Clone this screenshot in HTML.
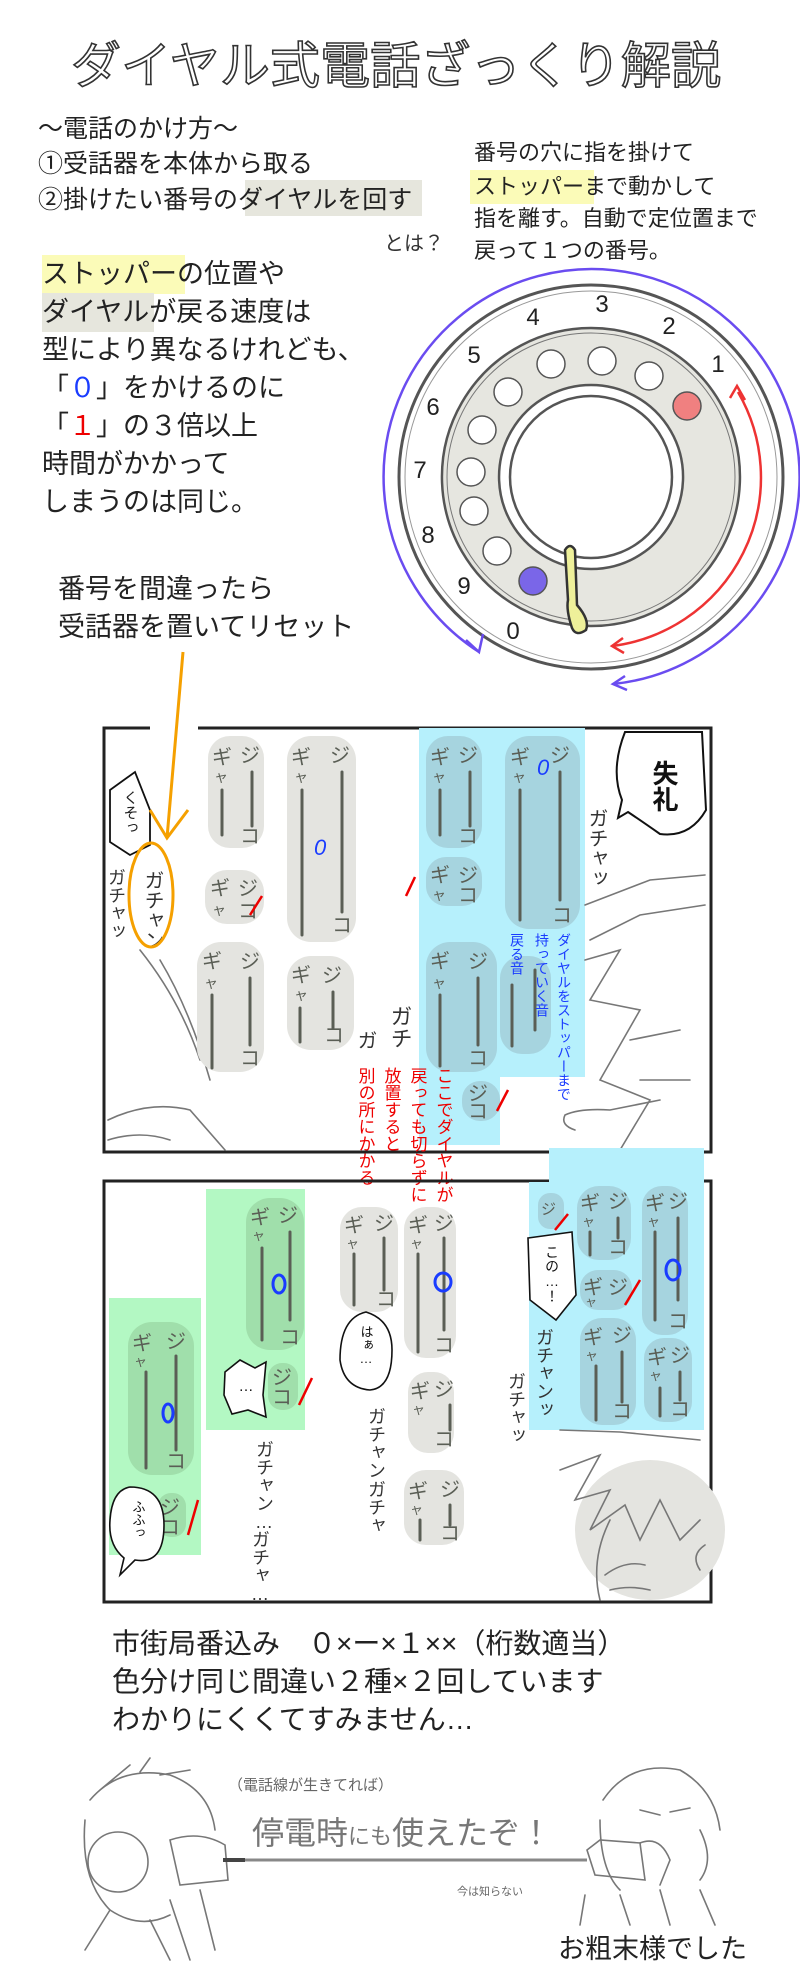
<!DOCTYPE html>
<html><head><meta charset="utf-8">
<style>
html,body{margin:0;padding:0;background:#fff;}
svg{display:block;}
text{font-family:"Liberation Sans","Noto Sans CJK JP",sans-serif;}
.v{writing-mode:vertical-rl;text-orientation:upright;}
.pk{fill:#5a5e55;font-size:20px;}
.pl{stroke:#5a5e55;stroke-width:3;stroke-linecap:round;fill:none;}
.sk{stroke:#777;stroke-width:1.6;fill:none;stroke-linecap:round;}
.jp{font-family:"Noto Sans CJK JP",sans-serif;}
</style></head>
<body>
<svg width="800" height="1988" viewBox="0 0 800 1988" xmlns="http://www.w3.org/2000/svg">
<rect width="800" height="1988" fill="#fff"/>

<!-- Title -->
<text x="396" y="83" text-anchor="middle" font-size="50" fill="#fff" stroke="#333" stroke-width="1.6" textLength="650">ダイヤル式電話ざっくり解説</text>

<!-- left intro -->
<g font-size="25" fill="#222">
<text x="38" y="137">〜電話のかけ方〜</text>
<text x="38" y="172">①受話器を本体から取る</text>
<rect x="245" y="180" width="177" height="36" fill="#e6e6dd"/>
<text x="38" y="208">②掛けたい番号のダイヤルを回す</text>
</g>
<g font-size="22" fill="#222">
<text x="474" y="160">番号の穴に指を掛けて</text>
<rect x="470" y="170" width="124" height="34" fill="#fbfbb8"/>
<text x="474" y="194">ストッパーまで動かして</text>
<text x="474" y="226">指を離す。自動で定位置まで</text>
<text x="474" y="258">戻って１つの番号。</text>
</g>
<text x="384" y="250" font-size="20" fill="#333">とは？</text>

<g font-size="27" fill="#222">
<rect x="42" y="255" width="143" height="39" fill="#fbfbb8"/>
<text x="42" y="283">ストッパーの位置や</text>
<rect x="42" y="293" width="112" height="39" fill="#e6e6dd"/>
<text x="42" y="321">ダイヤルが戻る速度は</text>
<text x="42" y="359">型により異なるけれども、</text>
<text x="42" y="397">「<tspan fill="#1a3cff">０</tspan>」をかけるのに</text>
<text x="42" y="435">「<tspan fill="#e00">１</tspan>」の３倍以上</text>
<text x="42" y="473">時間がかかって</text>
<text x="42" y="511">しまうのは同じ。</text>
<text x="58" y="598">番号を間違ったら</text>
<text x="58" y="636">受話器を置いてリセット</text>
</g>

<!-- Dial -->
<g>
<circle cx="591" cy="477" r="192" fill="none" stroke="#555" stroke-width="3"/>
<circle cx="591" cy="477" r="186" fill="none" stroke="#999" stroke-width="1"/>
<path d="M591 328 A149 149 0 1 1 590.9 328 Z M591 385 A92 92 0 1 0 591.1 385 Z" fill="#e6e6e0" fill-rule="evenodd" stroke="#555" stroke-width="2.5"/>
<circle cx="591" cy="477" r="144" fill="none" stroke="#777" stroke-width="1"/>
<circle cx="591" cy="477" r="81" fill="#fff" stroke="#555" stroke-width="2.5"/>
<g fill="#fff" stroke="#555" stroke-width="1.5">
<circle cx="602" cy="361" r="14"/><circle cx="551" cy="364" r="14"/><circle cx="649" cy="376" r="14"/>
<circle cx="508" cy="392" r="14"/><circle cx="482" cy="430" r="14"/><circle cx="471" cy="472" r="14"/>
<circle cx="474" cy="511" r="14"/><circle cx="497" cy="551" r="14"/>
<circle cx="687" cy="406" r="14" fill="#f08080"/>
<circle cx="533" cy="581" r="14" fill="#7a66e8"/>
</g>
<path d="M565 550 Q570 542 575 550 L577 605 Q590 620 586 630 Q576 637 572 628 Q566 610 568 600 Z" fill="#eef09a" stroke="#333" stroke-width="2.5"/>
<g font-size="24" fill="#222" text-anchor="middle">
<text x="602" y="312">3</text><text x="533" y="325">4</text><text x="669" y="334">2</text>
<text x="718" y="372">1</text><text x="474" y="363">5</text><text x="433" y="415">6</text>
<text x="420" y="478">7</text><text x="428" y="543">8</text><text x="464" y="594">9</text>
<text x="513" y="639">0</text>
</g>
<path d="M479 652 A208 208 0 1 1 613 684" fill="none" stroke="#6a4cf0" stroke-width="2.5"/>
<path d="M466 640 L479 652 L483 634" fill="none" stroke="#6a4cf0" stroke-width="2.5"/>
<path d="M625 676 L613 684 L627 690" fill="none" stroke="#6a4cf0" stroke-width="2.5"/>
<path d="M738 392 A170 170 0 0 1 612 646" fill="none" stroke="#ee3333" stroke-width="2.5"/>
<path d="M730 398 L737 386 L745 400" fill="none" stroke="#ee3333" stroke-width="2.5"/>
<path d="M623 638 L612 646 L624 653" fill="none" stroke="#ee3333" stroke-width="2.5"/>
</g>

<!-- Panel 1 -->
<rect x="104" y="728" width="607" height="424" fill="none" stroke="#222" stroke-width="3"/>
<rect x="150" y="722" width="48" height="12" fill="#fff"/>
<rect x="419" y="728" width="166" height="349" fill="#b6f0fc"/>
<rect x="419" y="1077" width="81" height="68" fill="#b6f0fc"/>
<g class="sk" stroke-width="2">
<path d="M585 905 L650 880 L705 875 M590 940 L640 915 L705 905 M585 960 L620 950 L590 1000 L640 1010 L600 1080 L650 1100 L620 1150"/>
<path d="M630 1040 L680 1030 M640 1080 L690 1080 M575 1130 Q560 1125 565 1115 Q580 1108 610 1110 L660 1100"/>
<path d="M108 1120 Q150 1100 190 1110 L225 1150 M108 1140 Q140 1130 170 1140"/>
<path d="M140 950 Q180 1000 200 1060 M160 960 Q190 1010 210 1080"/>
</g>
<g fill="#e4e4e0">
<rect x="208" y="736" width="56" height="112" rx="22"/>
<rect x="287" y="736" width="69" height="206" rx="24"/>
<rect x="205" y="870" width="59" height="54" rx="22"/>
<rect x="197" y="942" width="67" height="130" rx="24"/>
<rect x="287" y="956" width="67" height="94" rx="24"/>
</g>
<g fill="#a6d4df">
<rect x="426" y="736" width="56" height="112" rx="22"/>
<rect x="426" y="857" width="56" height="49" rx="20"/>
<rect x="505" y="736" width="75" height="193" rx="24"/>
<rect x="426" y="942" width="71" height="130" rx="24"/>
<rect x="500" y="956" width="51" height="98" rx="22"/>
<rect x="462" y="1081" width="38" height="40" rx="18"/>
</g>
<g class="pk">
<text x="212" y="764">ギ</text><text x="214" y="782" font-size="14">ャ</text><text x="240" y="762">ジ</text><text x="240" y="843">コ</text>
<text x="291" y="764">ギ</text><text x="294" y="782" font-size="14">ャ</text><text x="330" y="762">ジ</text><text x="332" y="932">コ</text>
<text x="210" y="895">ギ</text><text x="212" y="915" font-size="14">ャ</text><text x="238" y="895">ジ</text><text x="238" y="918">コ</text>
<text x="202" y="968">ギ</text><text x="204" y="988" font-size="14">ャ</text><text x="240" y="968">ジ</text><text x="240" y="1065">コ</text>
<text x="291" y="982">ギ</text><text x="294" y="1000" font-size="14">ャ</text><text x="322" y="982">ジ</text><text x="324" y="1042">コ</text>
<text x="430" y="764">ギ</text><text x="432" y="782" font-size="14">ャ</text><text x="458" y="762">ジ</text><text x="458" y="843">コ</text>
<text x="430" y="882">ギ</text><text x="432" y="900" font-size="14">ャ</text><text x="458" y="882">ジ</text><text x="458" y="902">コ</text>
<text x="510" y="764">ギ</text><text x="512" y="782" font-size="14">ャ</text><text x="550" y="762">ジ</text><text x="552" y="922">コ</text>
<text x="430" y="968">ギ</text><text x="432" y="988" font-size="14">ャ</text><text x="468" y="968">ジ</text><text x="468" y="1065">コ</text>
<text x="468" y="1100">ジ</text><text x="468" y="1118">コ</text>
</g>
<g class="pl">
<path d="M222 790 V835 M252 772 V826"/>
<path d="M302 790 V935 M342 772 V912"/>
<path d="M212 995 V1068 M250 978 V1045"/>
<path d="M300 1008 V1042 M333 992 V1028"/>
<path d="M440 790 V835 M470 772 V826"/>
<path d="M520 790 V920 M560 772 V900"/>
<path d="M440 995 V1066 M478 978 V1045"/>
<path d="M512 985 V1046 M535 970 V1030"/>
</g>
<g stroke="#e00" stroke-width="2.5" fill="none"><path d="M250 915 L262 896 M406 896 L415 877 M497 1111 L508 1090"/></g>
<text x="537" y="775" font-size="22" fill="#1a3cff" font-style="italic">0</text>
<text x="314" y="855" font-size="22" fill="#1a3cff" font-style="italic">0</text>
<path d="M625 732 L702 732 L706 810 Q690 838 660 834 Q640 820 628 812 L618 818 L622 800 Q610 770 625 732 Z" fill="#fff" stroke="#111" stroke-width="2"/>
<text x="664" y="760" class="v" font-size="26" font-weight="bold" fill="#111">失礼</text>
<text x="596" y="808" class="v" font-size="20" fill="#333">ガチャッ</text>
<path d="M110 790 L135 772 L150 810 L150 845 L130 855 L110 842 Z" fill="#fff" stroke="#111" stroke-width="1.8"/>
<text x="130" y="790" class="v" font-size="15" fill="#222">くそっ</text>
<text x="116" y="868" class="v" font-size="18" fill="#333">ガチャッ</text>
<text x="152" y="870" class="v" font-size="20" fill="#333">ガチャン</text>
<ellipse cx="151" cy="895" rx="22" ry="52" fill="none" stroke="#f5a000" stroke-width="3"/>
<path d="M183 652 L167 838 M150 810 L167 838 L188 810" fill="none" stroke="#f5a000" stroke-width="3"/>
<text x="400" y="1005" class="v" font-size="22" fill="#333">ガチ</text>
<text x="365" y="1030" class="v" font-size="20" fill="#333">ガ</text>
<g class="v" fill="#e00" font-size="17">
<text x="443" y="1067">ここでダイヤルが</text>
<text x="417" y="1067">戻っても切らずに</text>
<text x="391" y="1067">放置すると</text>
<text x="365" y="1067">別の所にかかる</text>
</g>
<g class="v" fill="#1a3cff" font-size="14">
<text x="564" y="933">ダイヤルをストッパーまで</text>
<text x="542" y="933">持っていく音</text>
<text x="517" y="933">戻る音</text>
</g>

<!-- Panel 2 -->
<rect x="104" y="1181" width="607" height="421" fill="none" stroke="#222" stroke-width="3"/>
<rect x="549" y="1148" width="155" height="282" fill="#b6f0fc"/>
<rect x="529" y="1182" width="22" height="248" fill="#b6f0fc"/>
<rect x="206" y="1189" width="99" height="241" fill="#b3f8c3"/>
<rect x="109" y="1298" width="92" height="257" fill="#b3f8c3"/>
<ellipse cx="650" cy="1530" rx="75" ry="70" fill="#e4e4e0"/>
<g class="sk" stroke-width="2.2" stroke="#666">
<path d="M560 1470 L600 1455 L575 1500 L610 1490 L590 1530 L625 1505 L640 1540 L660 1500 L680 1540 L700 1520"/>
<path d="M600 1600 Q590 1560 610 1520 M605 1575 Q625 1560 645 1565 M610 1590 Q630 1585 650 1590 M700 1570 Q690 1555 705 1545"/>
<path d="M560 1430 L620 1432 L700 1440"/>
</g>
<g fill="#a0dfab">
<rect x="246" y="1198" width="58" height="152" rx="24"/>
<rect x="268" y="1363" width="30" height="47" rx="14"/>
<rect x="128" y="1322" width="66" height="153" rx="24"/>
<rect x="158" y="1493" width="28" height="44" rx="13"/>
</g>
<g fill="#e4e4e0">
<rect x="340" y="1207" width="58" height="105" rx="22"/>
<rect x="404" y="1207" width="52" height="151" rx="22"/>
<rect x="408" y="1372" width="46" height="81" rx="20"/>
<rect x="404" y="1470" width="60" height="75" rx="22"/>
</g>
<g fill="#a6d4df">
<rect x="538" y="1193" width="26" height="36" rx="12"/>
<rect x="577" y="1186" width="54" height="74" rx="22"/>
<rect x="642" y="1186" width="46" height="149" rx="20"/>
<rect x="580" y="1270" width="52" height="40" rx="18"/>
<rect x="580" y="1318" width="56" height="107" rx="22"/>
<rect x="644" y="1338" width="48" height="84" rx="20"/>
</g>
<g class="pk" font-size="18">
<text x="250" y="1224">ギ</text><text x="252" y="1240" font-size="13">ャ</text><text x="278" y="1222">ジ</text><text x="280" y="1344">コ</text>
<text x="272" y="1384">ジ</text><text x="272" y="1404">コ</text>
<text x="132" y="1350">ギ</text><text x="134" y="1366" font-size="13">ャ</text><text x="166" y="1348">ジ</text><text x="166" y="1468">コ</text>
<text x="160" y="1514">ジ</text><text x="160" y="1534">コ</text>
<text x="344" y="1232">ギ</text><text x="346" y="1248" font-size="13">ャ</text><text x="374" y="1230">ジ</text><text x="376" y="1306">コ</text>
<text x="408" y="1232">ギ</text><text x="410" y="1248" font-size="13">ャ</text><text x="434" y="1230">ジ</text><text x="434" y="1352">コ</text>
<text x="410" y="1398">ギ</text><text x="412" y="1414" font-size="13">ャ</text><text x="434" y="1396">ジ</text><text x="434" y="1446">コ</text>
<text x="408" y="1498">ギ</text><text x="410" y="1514" font-size="13">ャ</text><text x="440" y="1496">ジ</text><text x="440" y="1540">コ</text>
<text x="541" y="1214" font-size="15">ジ</text>
<text x="580" y="1210">ギ</text><text x="582" y="1226" font-size="13">ャ</text><text x="608" y="1208">ジ</text><text x="608" y="1254">コ</text>
<text x="645" y="1210">ギ</text><text x="647" y="1226" font-size="13">ャ</text><text x="668" y="1208">ジ</text><text x="668" y="1328">コ</text>
<text x="583" y="1294">ギ</text><text x="585" y="1306" font-size="12">ャ</text><text x="608" y="1294">ジ</text>
<text x="583" y="1344">ギ</text><text x="585" y="1360" font-size="13">ャ</text><text x="612" y="1342">ジ</text><text x="612" y="1418">コ</text>
<text x="647" y="1364">ギ</text><text x="649" y="1380" font-size="13">ャ</text><text x="670" y="1362">ジ</text><text x="670" y="1416">コ</text>
</g>
<g class="pl" stroke-width="2.5">
<path d="M262 1248 V1340 M290 1232 V1320"/>
<path d="M146 1372 V1468 M176 1356 V1450"/>
<path d="M354 1254 V1305 M384 1238 V1290"/>
<path d="M418 1254 V1352 M444 1238 V1330"/>
<path d="M450 1405 V1430 M450 1505 V1525 M420 1520 V1540"/>
<path d="M590 1232 V1255 M618 1218 V1238"/>
<path d="M655 1232 V1320 M678 1218 V1300"/>
<path d="M596 1366 V1420 M622 1352 V1402 M660 1388 V1416 M680 1372 V1400"/>
</g>
<g fill="none" stroke="#1a3cff" stroke-width="3">
<ellipse cx="279" cy="1284" rx="6" ry="9"/>
<ellipse cx="168" cy="1413" rx="5" ry="9"/>
<ellipse cx="443" cy="1282" rx="8" ry="9"/>
<ellipse cx="673" cy="1270" rx="7" ry="10"/>
</g>
<g stroke="#e00" stroke-width="2.5" fill="none"><path d="M299 1405 L312 1378 M188 1535 L198 1500 M555 1230 L568 1214 M625 1305 L640 1280"/></g>
<path d="M225 1372 L240 1360 L255 1368 L266 1362 L263 1395 L266 1417 L248 1410 L232 1414 L224 1395 Z" fill="#fff" stroke="#111" stroke-width="1.6"/>
<text x="246" y="1378" class="v" font-size="15" fill="#111">…</text>
<path d="M130 1487 Q164 1487 164 1525 Q164 1565 135 1560 L120 1575 L124 1558 Q108 1545 110 1520 Q112 1490 130 1487 Z" fill="#fff" stroke="#111" stroke-width="1.6"/>
<text x="138" y="1500" class="v" font-size="13" fill="#111">ふふっ</text>
<path d="M366 1312 Q392 1320 392 1350 Q392 1388 370 1390 Q344 1388 340 1360 Q340 1318 366 1312 Z" fill="#fff" stroke="#111" stroke-width="1.6"/>
<text x="366" y="1325" class="v" font-size="13" fill="#111">はぁ…</text>
<path d="M528 1238 L572 1232 L576 1295 L556 1320 L530 1300 Z" fill="#fff" stroke="#111" stroke-width="1.6"/>
<text x="552" y="1245" class="v" font-size="14" fill="#111">この…！</text>
<g class="v" fill="#333" font-size="18">
<text x="544" y="1328">ガチャンッ</text>
<text x="516" y="1372">ガチャッ</text>
<text x="376" y="1407">ガチャン</text>
<text x="376" y="1480">ガチャ</text>
<text x="264" y="1440">ガチャン…</text>
<text x="260" y="1530">ガチャ…</text>
</g>

<!-- bottom text -->
<g font-size="28" fill="#222" class="jp">
<text x="112" y="1653">市街局番込み　０×ー×１××（桁数適当）</text>
<text x="112" y="1691">色分け同じ間違い２種×２回しています</text>
<text x="112" y="1729">わかりにくくてすみません…</text>
</g>

<!-- bottom sketch -->
<g class="sk" stroke="#666">
<path d="M90 1800 Q120 1765 170 1775 Q210 1790 215 1830 M100 1790 L130 1765 M140 1772 L150 1758 M160 1775 L190 1770"/>
<circle cx="118" cy="1862" r="30"/>
<path d="M85 1820 Q80 1880 110 1910 Q140 1930 170 1915 M170 1840 Q200 1830 225 1845 L228 1880 L180 1885 Z"/>
<path d="M110 1910 L85 1950 M150 1920 L170 1960 M200 1890 L215 1950 M170 1900 L190 1960"/>
<path d="M603 1800 Q630 1760 680 1770 Q715 1790 720 1830 M600 1820 Q600 1870 620 1890 M700 1830 Q715 1860 700 1880"/>
<path d="M587 1850 L600 1840 L640 1843 L645 1880 L595 1875 Z"/>
<path d="M640 1843 Q660 1835 670 1860 L660 1885 M585 1895 L580 1925 M620 1895 L630 1925 M700 1890 L715 1925 M660 1890 L670 1925"/>
<path d="M640 1810 L660 1815 M670 1812 L690 1808"/>
</g>
<path d="M223 1860 L587 1860" stroke="#888" stroke-width="3"/>
<path d="M223 1860 L245 1860" stroke="#444" stroke-width="4"/>
<text x="228" y="1790" font-size="15" fill="#666">（電話線が生きてれば）</text>
<text x="252" y="1844" font-size="32" fill="#777">停電時<tspan font-size="22">にも</tspan>使えたぞ！</text>
<text x="457" y="1895" font-size="11" fill="#666">今は知らない</text>
<text x="558" y="1958" font-size="27" fill="#222">お粗末様でした</text>
</svg>
</body></html>
